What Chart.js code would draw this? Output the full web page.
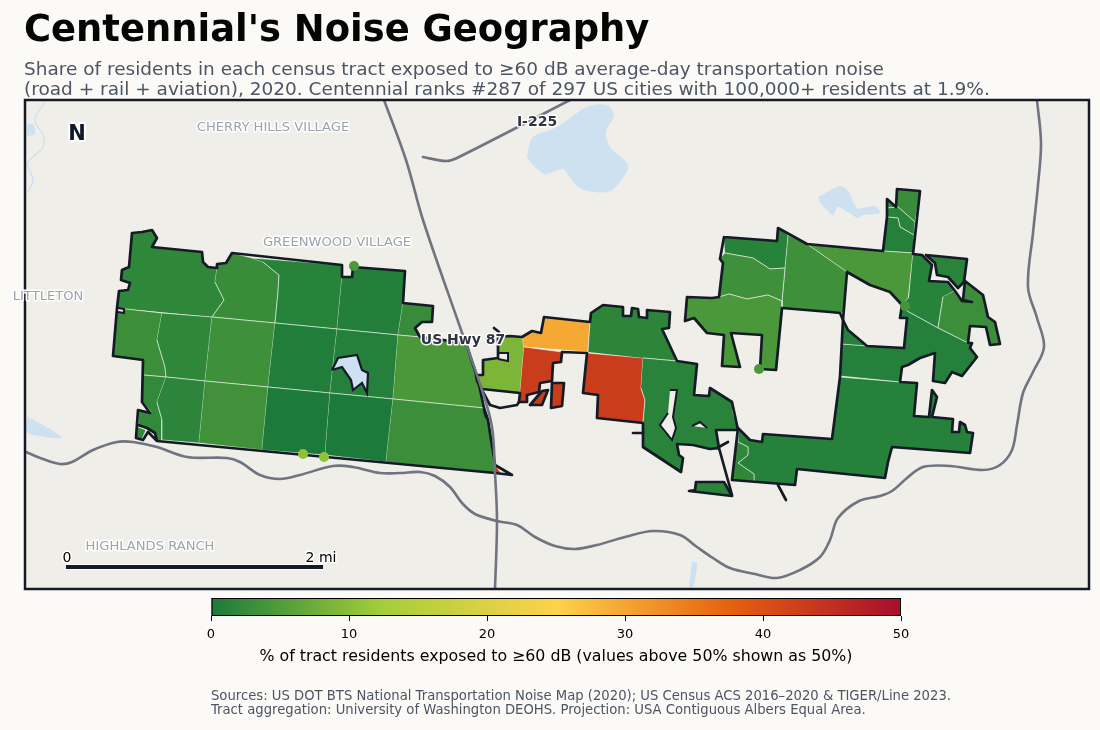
<!DOCTYPE html>
<html>
<head>
<meta charset="utf-8">
<title>Centennial's Noise Geography</title>
<script src="https://cdn.jsdelivr.net/npm/chart.js@4"></script>
<style>
  html, body { margin: 0; padding: 0; background: #fbfaf6; }
  body { width: 1100px; height: 730px; position: relative; overflow: hidden; font-family: "DejaVu Sans", sans-serif; }
  canvas { position: absolute; }
  #map { left: 0; top: 0; }
  #bar { left: 180px; top: 590px; }
  .txt { position: absolute; white-space: pre; z-index: 2; }
  #title { left: 24px; top: 8px; font-size: 36.9px; font-weight: 700; color: #050505; line-height: 42px; }
  #subtitle { left: 24px; top: 59px; font-size: 18.5px; color: #4b5563; line-height: 19.5px; }
  #sources { left: 211px; top: 689px; font-size: 13.2px; color: #4b5563; line-height: 14px; }
</style>
</head>
<body>
<div class="txt" id="title">Centennial's Noise Geography</div>
<div class="txt" id="subtitle">Share of residents in each census tract exposed to ≥60 dB average-day transportation noise
(road + rail + aviation), 2020. Centennial ranks #287 of 297 US cities with 100,000+ residents at 1.9%.</div>
<canvas id="map" width="1100" height="730"></canvas>
<canvas id="bar" width="750" height="76"></canvas>
<div class="txt" id="sources">Sources: US DOT BTS National Transportation Noise Map (2020); US Census ACS 2016–2020 &amp; TIGER/Line 2023.
Tract aggregation: University of Washington DEOHS. Projection: USA Contiguous Albers Equal Area.</div>

<script>
// tract shapes
const wA = [[117,308],[119,291],[128,290],[130,283],[121,280],[122,270],[129,267],[132,233],[142,232],[152,230],[157,238],[152,247],[202,252],[203,262],[208,267],[217,268],[215,282],[224,300],[212,317]];
const wB = [[217,268],[217,264],[226,263],[232,253],[252,258],[263,262],[279,275],[278,292],[275,323],[212,317],[224,300],[215,282]];
const wC = [[252,258],[342,265],[342,277],[337,329],[275,323],[278,292],[279,275],[263,262]];
const wD = [[342,277],[352,277],[353,267],[405,271],[403,303],[398,335],[337,329]];
const wE = [[403,303],[433,306],[432,322],[422,322],[415,328],[420,337],[398,335]];
const wF = [[117,308],[162,313],[157,340],[165,367],[166,377],[143,375],[143,360],[113,356]];
const wG = [[162,313],[212,317],[205,381],[166,377],[165,367],[157,340]];
const wH = [[212,317],[275,323],[268,387],[205,381]];
const wI = [[275,323],[337,329],[330,393],[268,387]];
const wJ = [[337,329],[398,335],[393,399],[330,393]];
const wK = [[398,335],[420,337],[466,343],[478,380],[484,408],[393,399]];
const wL = [[143,375],[166,377],[157,402],[162,420],[162,440],[157,441],[155,433],[147,428],[138,425],[139,409],[151,412],[143,402]];
const wL2 = [[138,427],[146,430],[142,439],[136,438]];
const wM = [[166,377],[205,381],[199,443],[162,440],[162,420],[157,402]];
const wN = [[205,381],[268,387],[262,450],[199,443]];
const wO = [[268,387],[330,393],[325,455],[262,450]];
const wP = [[330,393],[393,399],[386,462],[325,455]];
const wQ = [[393,399],[484,408],[488,420],[495,473],[386,462]];
const wTip = [[495,465],[501,473],[495,473]];

const cLime = [[476,375],[483,375],[483,360],[498,358],[498,337],[510,336],[522,337],[524,347],[520,393],[482,389],[477,381]];
const cOrange = [[522,337],[532,331],[541,333],[544,317],[590,322],[588,352],[524,347]];
const cRedA = [[524,347],[562,352],[561,362],[553,363],[552,381],[540,383],[539,392],[527,395],[527,402],[519,402],[520,393]];
const cRedB = [[530,405],[542,391],[548,390],[542,405]];
const cRedC = [[552,383],[564,383],[562,406],[551,408]];
const cRedD = [[587,353],[643,358],[641,388],[645,400],[643,423],[597,418],[598,395],[583,393]];
const cGreenA = [[588,352],[590,322],[591,313],[603,305],[623,307],[623,316],[631,316],[632,308],[638,309],[639,317],[647,318],[647,310],[670,312],[669,328],[662,329],[677,361],[643,358]];
const cGreenB = [[643,358],[677,361],[697,364],[694,395],[709,396],[710,388],[732,402],[733,413],[738,430],[716,430],[719,448],[710,449],[693,445],[677,444],[679,455],[683,458],[681,472],[643,447],[643,423],[645,400],[641,388]];
const cPatch = [[696,482],[724,482],[732,496],[689,491],[695,490]];

const eN1 = [[897,189],[920,191],[915,222],[898,207],[887,208],[887,199],[896,207]];
const eN2 = [[887,208],[898,207],[915,222],[914,235],[900,227],[898,218],[887,217]];
const eN3 = [[887,217],[898,218],[900,227],[914,235],[913,253],[883,251]];
const eLarge = [[807,244],[883,251],[913,253],[908,300],[902,305],[890,292],[870,285],[847,272]];
const eMid = [[788,235],[807,244],[847,272],[845,312],[840,313],[830,312],[782,308],[782,301],[785,268]];
const eTL = [[724,237],[777,241],[778,228],[788,235],[785,268],[770,269],[753,258],[725,253]];
const eML = [[725,253],[753,258],[770,269],[785,268],[782,301],[768,295],[747,299],[729,294],[719,297],[723,263],[720,259]];
const eSW = [[687,297],[712,298],[719,297],[729,294],[747,299],[768,295],[782,301],[782,308],[776,370],[760,369],[762,335],[731,333],[740,367],[722,366],[724,335],[707,333],[694,318],[685,321]];
const eCen = [[913,254],[922,255],[932,265],[929,281],[948,282],[954,291],[943,297],[938,328],[907,311],[900,307],[909,297]];
const eRight = [[954,291],[958,297],[963,301],[965,281],[983,295],[988,317],[995,322],[1000,344],[990,345],[986,327],[970,326],[968,343],[938,328],[943,297]];
const eChunk = [[926,255],[967,259],[964,282],[958,288],[948,277],[937,275],[935,263]];
const eSouth = [[907,311],[938,328],[968,343],[972,343],[970,348],[977,357],[962,376],[952,372],[945,383],[933,381],[935,353],[920,358],[908,365],[902,367],[900,382],[840,376],[842,344],[904,348],[907,318],[900,318],[900,307]];
const eWedge = [[843,320],[848,330],[867,346],[842,344]];
const eLow = [[840,377],[900,382],[917,383],[914,416],[929,417],[932,390],[937,397],[932,417],[953,419],[952,432],[959,432],[960,422],[965,425],[967,432],[973,433],[970,453],[892,447],[888,462],[885,478],[797,469],[795,485],[754,482],[754,474],[738,463],[748,455],[748,447],[738,442],[738,428],[750,440],[762,442],[763,434],[832,439]];
const eLowLeft = [[732,480],[754,482],[754,474],[738,463],[748,455],[748,447],[738,442],[738,428]];

// one exposure value per tract, same order as tractShapes
const tractShapes = [wA, wB, wC, wD, wE, wF, wG, wH, wI, wJ, wK, wL, wL2, wM, wN, wO, wP, wQ, wTip,
  cLime, cOrange, cRedA, cRedB, cRedC, cRedD, cGreenA, cGreenB, cPatch,
  eN1, eN2, eN3, eLarge, eMid, eTL, eML, eSW, eCen, eRight, eChunk, eSouth, eWedge, eLow, eLowLeft];
const tractValues = [1.9, 2.8, 1.2, 0.8, 2.6, 3.0, 1.9, 3.2, 0.6, 0.9, 4.4, 2.2, 2.2, 1.6, 3.4, 0.2, 0.2, 3.0, 43,
  8.8, 29.7, 43, 43, 43, 43, 1.7, 1.3, 1.5,
  2.8, 1.4, 0.9, 4.4, 3.2, 1.2, 3.2, 4.4, 1.2, 3.0, 1.4, 0.9, 1.1, 1.1, 2.0];

// city boundary
const outlineWest = [[132,233],[142,232],[152,230],[157,238],[152,247],[202,252],[203,262],[208,267],[217,268],[217,264],[226,263],[232,253],[342,265],[342,277],[352,277],[353,267],[405,271],[403,303],[433,306],[432,322],[422,322],[415,328],[420,337],[466,343],[478,380],[484,408],[488,420],[495,465],[512,475],[495,473],[157,441],[155,433],[147,428],[138,425],[147,428],[155,433],[157,441],[148,432],[143,440],[136,438],[138,410],[150,413],[142,402],[143,360],[113,356],[117,308],[119,291],[128,290],[130,283],[121,280],[122,270],[129,267],[132,233]];
const outlineCenter = [[476,375],[483,375],[483,360],[498,358],[498,337],[510,336],[522,337],[532,331],[541,333],[544,317],[590,322],[591,313],[603,305],[623,307],[623,316],[631,316],[632,308],[638,309],[639,317],[647,318],[647,310],[670,312],[669,328],[662,329],[677,361],[697,364],[694,395],[709,396],[710,388],[732,402],[738,430],[716,430],[719,448],[710,449],[693,445],[677,444],[679,455],[683,458],[681,472],[643,447],[643,423],[597,418],[598,395],[583,393],[587,353],[562,352],[561,362],[553,363],[552,381],[540,383],[539,392],[527,395],[527,402],[519,402],[520,393],[482,389],[477,381],[476,375]];
const outlineEast = [[724,237],[777,241],[778,228],[807,244],[883,251],[887,217],[887,199],[896,207],[897,189],[920,191],[913,254],[922,255],[932,265],[929,281],[948,282],[955,291],[962,301],[972,302],[963,300],[965,281],[983,295],[988,317],[995,322],[1000,344],[990,345],[986,327],[970,326],[968,343],[972,343],[970,348],[977,357],[962,376],[952,372],[945,383],[933,381],[935,353],[920,358],[908,365],[902,367],[900,382],[917,383],[914,416],[929,417],[932,390],[937,397],[932,417],[953,419],[952,432],[959,432],[960,422],[965,425],[967,432],[973,433],[970,453],[892,447],[888,462],[885,478],[797,469],[795,485],[732,480],[738,428],[750,440],[762,442],[763,434],[832,439],[840,377],[843,320],[840,313],[830,312],[782,308],[776,370],[760,369],[762,335],[731,333],[740,367],[722,366],[724,335],[707,333],[694,318],[685,321],[687,297],[712,298],[719,297],[723,263],[720,259],[724,237]];
const outlineHole = [[847,272],[870,285],[890,292],[902,305],[900,318],[907,318],[904,348],[867,346],[848,330],[843,320],[847,272]];
const outlineChunk = [[926,255],[967,259],[964,282],[958,288],[948,277],[937,275],[935,263],[926,255]];
const outlineRedB = [[530,405],[542,391],[548,390],[542,405],[530,405]];
const outlineRedC = [[552,383],[564,383],[562,406],[551,408],[552,383]];
const outlinePatch = [[696,482],[724,482],[732,496],[689,491],[695,490],[696,482]];
const pocketLine = [[483,392],[490,405],[500,408],[517,405],[519,402]];
const stubA = [[719,448],[732,495]];
const stubB = [[717,448],[728,442]];
const stubC = [[778,485],[786,500]];
const stubD = [[633,433],[643,433]];
const stubE = [[484,410],[486,417]];
const stubF = [[494,328],[499,332]];
const outlineLines = [outlineWest, outlineCenter, outlineEast, outlineHole, outlineChunk, outlineRedB, outlineRedC, outlinePatch, pocketLine, stubA, stubB, stubC, stubD, stubE, stubF];

// gaps inside the boundary
const gapNotch = [[118,308],[124,309],[124,313],[118,312]];
const gapBox = [[498,353],[508,353],[508,361],[498,359]];
const gapSlit = [[670,390],[677,390],[673,417],[676,428],[672,440],[660,425],[668,413]];
const gapTri = [[692,426],[700,422],[707,428]];
const gapShapes = [gapNotch, gapBox, gapSlit, gapTri];

// water
const lakeNorth = [[528,150],[533,137],[557,127],[587,107],[607,105],[614,115],[606,132],[610,147],[628,165],[623,178],[610,191],[593,192],[578,187],[568,175],[563,169],[545,174],[533,165],[527,157]];
const lakeEast = [[818,197],[840,186],[848,191],[857,208],[867,207],[875,206],[880,213],[863,215],[858,218],[838,207],[833,215],[820,203]];
const lakeWest = [[27,417],[43,425],[62,438],[33,435],[26,432]];
const lakeBlob = [[27,124],[33,124],[35,134],[27,136]];
const riverSouth = [[692,562],[697,563],[693,587],[689,587]];
const lakeInner = [[332,370],[338,358],[357,355],[362,370],[368,373],[367,393],[362,383],[353,390],[351,380],[342,367],[332,370]];
const streamWest = [[45,102],[35,120],[43,135],[43,147],[28,163],[33,180],[28,192]];
const waterShapes = [lakeNorth, lakeEast, lakeWest, lakeBlob, riverSouth];

// roads
const roadNorthSouth = [[384,100],[406,160],[423,220],[460,327],[482,390],[492,427],[495,473],[497,521],[495,589]];
const roadI225 = [[423,157],[446,161],[457,158],[570,100]];
const roadSouth = [[26,452],[43,459],[60,464],[72,462],[93,450],[117,442],[133,442],[157,447],[187,457],[227,458],[240,462],[260,475],[280,479],[300,475],[333,466],[353,467],[380,473],[400,473],[420,472],[435,476],[450,487],[462,503],[475,514],[497,521],[517,525],[535,537],[555,546],[575,549],[597,545],[625,537],[653,531],[680,535],[697,547],[713,558],[730,568],[755,574],[777,578],[800,570],[820,557],[830,540],[838,518],[859,501],[880,496],[892,491],[907,478],[923,467],[950,466],[983,470],[1000,465],[1012,450],[1017,425],[1023,393],[1033,372],[1044,347],[1037,318],[1028,287],[1033,233],[1038,185],[1041,143],[1037,100]];
const roadLines = [roadNorthSouth, roadI225, roadSouth];

// small tracts drawn as dots
const dotPoints = [[303,454],[324,457],[354,266],[759,369],[905,306]];
const dotValues = [10.5, 10.5, 4.5, 4.4, 4.0];

// scale bar
const scaleBar = [[66,567],[323,567]];

// map labels
const placeNames = ["CHERRY HILLS VILLAGE", "GREENWOOD VILLAGE", "LITTLETON", "HIGHLANDS RANCH"];
const placeX = [273, 337, 48, 150];
const placeY = [128, 243, 297, 547];
const roadNames = ["I-225", "US Hwy 87"];
const roadNameX = [537, 463];
const roadNameY = [122, 340];

// colour bar
const barTicks = [0, 10, 20, 30, 40, 50];
const barStops = ["#1a7a3a", "#a6ce39", "#ffd24a", "#e6620f", "#a50f2d"];
const barMax = 50;

function hexToRgb(hex) {
  return [1, 3, 5].map((i) => parseInt(hex.slice(i, i + 2), 16));
}

function valueColor(v) {
  const t = Math.min(v / barMax, 1) * (barStops.length - 1);
  const i = Math.min(Math.floor(t), barStops.length - 2);
  const a = hexToRgb(barStops[i]);
  const b = hexToRgb(barStops[i + 1]);
  const mix = a.map((c, k) => Math.round(c + (b[k] - c) * (t - i)));
  return `rgb(${mix[0]}, ${mix[1]}, ${mix[2]})`;
}

function shape(data, color, extra = {}) {
  return { data, showLine: true, fill: "shape", backgroundColor: color, borderColor: color, borderWidth: 0, pointRadius: 0, tension: 0, ...extra };
}

function line(data, color, width, extra = {}) {
  return { data, showLine: true, fill: false, borderColor: color, borderWidth: width, pointRadius: 0, tension: 0, borderJoinStyle: "round", borderCapStyle: "round", ...extra };
}

const WATER = "#cde1f1";
const LAND = "#f0eee8";
const INK = "#141a26";
const ROAD = "#6f7480";

const layers = [
  ...waterShapes.map((w) => shape(w, WATER, { tension: 0.3 })),
  line(streamWest, WATER, 1.3, { tension: 0.4 }),
  ...tractShapes.map((t, i) => shape(t, valueColor(tractValues[i]), { borderColor: "rgba(255,255,255,0.75)", borderWidth: 0.7 })),
  ...gapShapes.map((g) => shape(g, LAND, { borderColor: INK, borderWidth: 2 })),
  shape(lakeInner, WATER, { borderColor: INK, borderWidth: 2.2 }),
  ...outlineLines.map((o) => line(o, INK, 2.7)),
  ...roadLines.map((r) => line(r, ROAD, 2.6, { tension: 0.35 })),
  {
    data: dotPoints, showLine: false, pointRadius: 5, pointBorderWidth: 0,
    pointBackgroundColor: dotValues.map(valueColor),
  },
  line(scaleBar, "#ffffff", 6, { borderCapStyle: "butt" }),
  line(scaleBar, INK, 4, { borderCapStyle: "butt" }),
];
layers.forEach((d, i) => { d.order = -i; });

function haloText(ctx, text, x, y, font, color, halo = 3) {
  ctx.font = font;
  ctx.textAlign = "center";
  ctx.textBaseline = "middle";
  ctx.lineJoin = "round";
  ctx.lineWidth = halo;
  ctx.strokeStyle = "rgba(255,255,255,0.95)";
  ctx.strokeText(text, x, y);
  ctx.fillStyle = color;
  ctx.fillText(text, x, y);
}

const mapFrame = {
  id: "mapFrame",
  beforeDatasetsDraw(chart) {
    const { ctx, chartArea: a } = chart;
    ctx.save();
    ctx.fillStyle = LAND;
    ctx.fillRect(a.left, a.top, a.width, a.height);
    ctx.restore();
  },
  afterDatasetsDraw(chart) {
    const { ctx, chartArea: a, scales } = chart;
    ctx.save();
    ctx.strokeStyle = INK;
    ctx.lineWidth = 2.5;
    ctx.strokeRect(a.left, a.top, a.width, a.height);
    const px = (v) => scales.x.getPixelForValue(v);
    const py = (v) => scales.y.getPixelForValue(v);
    placeNames.forEach((name, i) => {
      haloText(ctx, name, px(placeX[i]), py(placeY[i]), '13.1px "DejaVu Sans"', "#9ca3af");
    });
    roadNames.forEach((name, i) => {
      haloText(ctx, name, px(roadNameX[i]), py(roadNameY[i]), 'bold 14px "DejaVu Sans"', "#2d3340");
    });
    haloText(ctx, "N", px(77), py(135), 'bold 21px "DejaVu Sans"', "#111827", 4);
    haloText(ctx, "0", px(67), py(558), '14px "DejaVu Sans"', "#000000");
    haloText(ctx, "2 mi", px(321), py(558), '14px "DejaVu Sans"', "#000000");
    ctx.restore();
  },
};

new Chart(document.getElementById("map"), {
  type: "scatter",
  data: { datasets: layers },
  options: {
    responsive: false,
    animation: false,
    events: [],
    layout: { padding: { left: 25, top: 100, right: 11, bottom: 141 } },
    scales: {
      x: { type: "linear", min: 25, max: 1089, display: false },
      y: { type: "linear", min: 100, max: 589, reverse: true, display: false },
    },
    plugins: { legend: { display: false }, tooltip: { enabled: false } },
  },
  plugins: [mapFrame],
});

new Chart(document.getElementById("bar"), {
  type: "bar",
  data: {
    labels: ["share"],
    datasets: [{
      data: [barMax],
      barPercentage: 1,
      categoryPercentage: 1,
      backgroundColor(context) {
        const { ctx, chartArea } = context.chart;
        if (!chartArea) return barStops[0];
        const grad = ctx.createLinearGradient(chartArea.left, 0, chartArea.right, 0);
        barStops.forEach((c, i) => grad.addColorStop(i / (barStops.length - 1), c));
        return grad;
      },
      borderColor: "#000000",
      borderWidth: 1.4,
      borderSkipped: false,
    }],
  },
  options: {
    indexAxis: "y",
    responsive: false,
    animation: false,
    events: [],
    layout: { padding: { left: 31, right: 29, top: 8, bottom: 0 } },
    scales: {
      x: {
        type: "linear",
        min: 0,
        max: barMax,
        afterBuildTicks(axis) { axis.ticks = barTicks.map((value) => ({ value })); },
        // the layout caps a bottom axis at half the canvas, so set its height here
        afterFit(axis) { axis.height = 50; },
        grid: { display: true, drawOnChartArea: false, drawTicks: true, tickLength: 5, tickColor: "#000000", tickWidth: 1 },
        border: { display: false },
        ticks: { color: "#000000", font: { family: "DejaVu Sans", size: 13 }, maxRotation: 0, padding: 6, autoSkip: false },
        title: {
          display: true,
          text: "% of tract residents exposed to ≥60 dB (values above 50% shown as 50%)",
          color: "#000000",
          font: { family: "DejaVu Sans", size: 15.8 },
          padding: { top: 6, bottom: 0 },
        },
      },
      y: { display: false },
    },
    plugins: { legend: { display: false }, tooltip: { enabled: false } },
  },
});
</script>
</body>
</html>
